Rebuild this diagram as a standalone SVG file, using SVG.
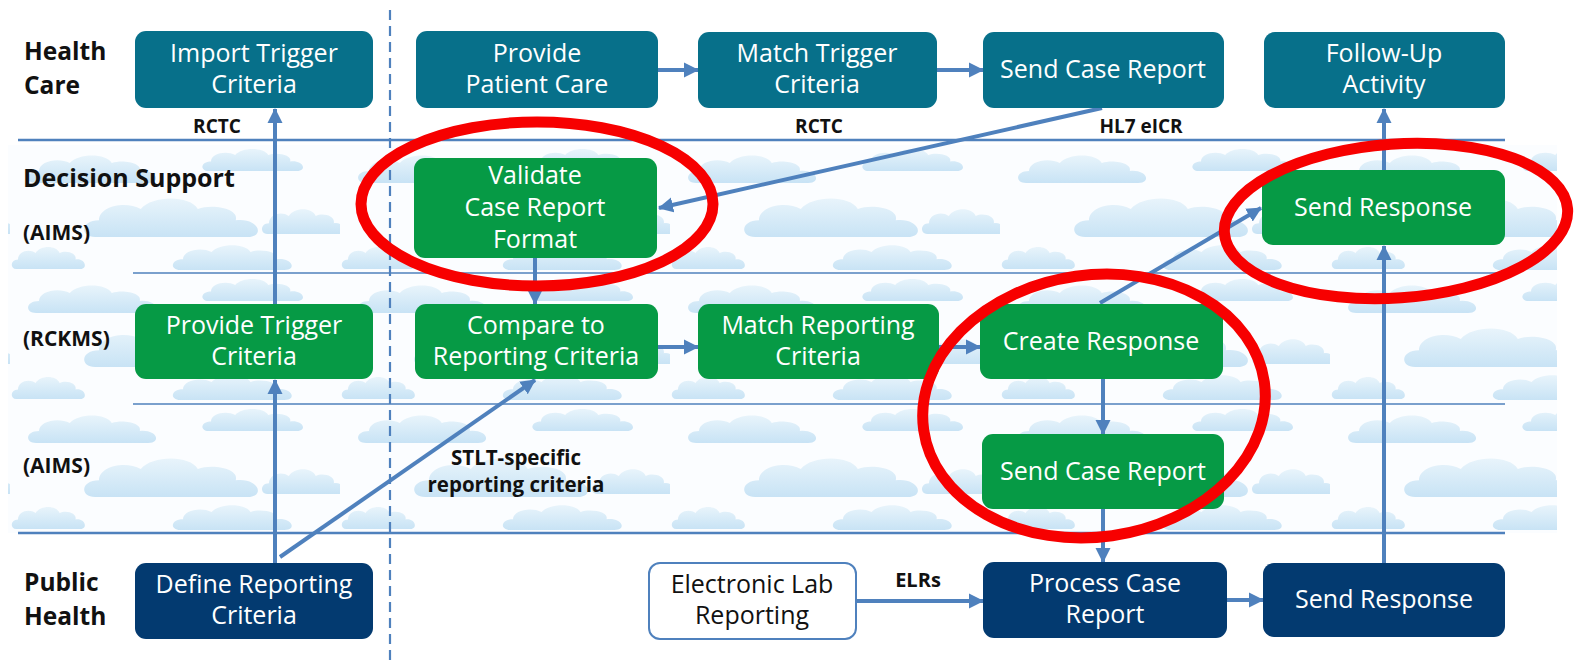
<svg xmlns="http://www.w3.org/2000/svg" width="1575" height="660" viewBox="0 0 1575 660">
<defs>
<style>
.bx{stroke:none}
.hc{fill:#07708a}
.gr{fill:#069a45}
.nv{fill:#033a70}
.bt{font-family:"Open Sans","Liberation Sans",sans-serif;font-size:25px;fill:#fff;text-anchor:middle}
.lb{font-family:"Open Sans","Liberation Sans",sans-serif;font-weight:700;fill:#111}
.ln{stroke:#4f81bd;fill:none}
.cn{stroke:#4f81bd;stroke-width:4;fill:none}
.ar{marker-end:url(#ah)}
.red{fill:none;stroke:#f70000;stroke-width:11}
</style>
<marker id="ah" markerUnits="userSpaceOnUse" markerWidth="17" markerHeight="17" refX="14" refY="8.5" orient="auto"><path d="M0,1 L15,8.5 L0,16 z" fill="#4f81bd"/></marker>
<linearGradient id="cg" x1="0" y1="0" x2="0" y2="1"><stop offset="0" stop-color="#e8f4fb"/><stop offset="1" stop-color="#c8e3f5"/></linearGradient>
<path id="cl" d="M8,30 C0,30 0,18 10,18 C10,8 24,4 32,10 C38,0 58,0 62,10 C70,6 84,10 82,18 C94,16 98,30 88,30 Z" fill="url(#cg)"/>
<pattern id="clouds" patternUnits="userSpaceOnUse" x="10" y="145" width="330" height="130">
<rect width="330" height="130" fill="#fbfdff"/>
<use href="#cl" transform="translate(15,8) scale(1.4,1)"/>
<use href="#cl" transform="translate(190,2) scale(1.1,0.8)"/>
<use href="#cl" transform="translate(70,50) scale(1.9,1.4)"/>
<use href="#cl" transform="translate(250,62) scale(0.9,0.9)"/>
<use href="#cl" transform="translate(0,100) scale(0.8,0.8)"/>
<use href="#cl" transform="translate(160,98) scale(1.3,0.9)"/>
</pattern>
</defs>
<rect width="1575" height="660" fill="#fff"/>
<rect x="8" y="145" width="1549" height="388" fill="url(#clouds)"/>

<g id="lanes">
<line class="ln" x1="18" y1="140" x2="1505" y2="140" stroke-width="2.5"/>
<line class="ln" x1="133" y1="273" x2="1505" y2="273" stroke-width="1.5"/>
<line class="ln" x1="133" y1="404" x2="1505" y2="404" stroke-width="1.5"/>
<line class="ln" x1="18" y1="533" x2="1505" y2="533" stroke-width="2.5"/>
<line class="ln" x1="390" y1="10" x2="390" y2="660" stroke-width="2.2" stroke-dasharray="10,6"/>
</g>

<g id="lane-labels">
<text class="lb" font-size="24.5"><tspan x="24" y="60">Health</tspan><tspan x="24" y="94">Care</tspan></text>
<text class="lb" font-size="25" x="23" y="187">Decision Support</text>
<text class="lb" font-size="21" x="23" y="240">(AIMS)</text>
<text class="lb" font-size="21" x="23" y="346">(RCKMS)</text>
<text class="lb" font-size="21" x="23" y="473">(AIMS)</text>
<text class="lb" font-size="24.5"><tspan x="24" y="591">Public</tspan><tspan x="24" y="625">Health</tspan></text>
</g>

<g id="connectors">
<line class="cn ar" x1="275" y1="563" x2="275" y2="380"/>
<line class="cn ar" x1="275" y1="304" x2="275" y2="109"/>
<line class="cn ar" x1="280" y1="557" x2="535" y2="380"/>
<line class="cn ar" x1="658" y1="70" x2="698" y2="70"/>
<line class="cn ar" x1="937" y1="70" x2="983" y2="70"/>
<line class="cn ar" x1="1102" y1="108" x2="659" y2="208"/>
<line class="cn ar" x1="535" y1="258" x2="535" y2="304"/>
<line class="cn ar" x1="658" y1="347" x2="698" y2="347"/>
<line class="cn ar" x1="939" y1="347" x2="980" y2="347"/>
<line class="cn ar" x1="1100" y1="303" x2="1261" y2="208"/>
<line class="cn ar" x1="1103" y1="379" x2="1103" y2="434"/>
<line class="cn ar" x1="1103" y1="509" x2="1103" y2="562"/>
<line class="cn ar" x1="856" y1="601" x2="983" y2="601"/>
<line class="cn ar" x1="1227" y1="600" x2="1263" y2="600"/>
<line class="cn ar" x1="1384" y1="563" x2="1384" y2="246"/>
<line class="cn ar" x1="1384" y1="170" x2="1384" y2="109"/>
<text class="lb" font-size="19" x="217" y="133" text-anchor="middle">RCTC</text>
<text class="lb" font-size="19" x="819" y="133" text-anchor="middle">RCTC</text>
<text class="lb" font-size="19" x="1141" y="133" text-anchor="middle">HL7 eICR</text>
<text class="lb" font-size="20.5" text-anchor="middle"><tspan x="516" y="465">STLT-specific</tspan><tspan x="516" y="492">reporting criteria</tspan></text>
<text class="lb" font-size="20" x="918" y="587" text-anchor="middle">ELRs</text>
</g>

<g id="n-import"><rect class="bx hc" x="135" y="31" width="238" height="77" rx="11"/><text class="bt" x="254" y="62">Import Trigger</text><text class="bt" x="254" y="93">Criteria</text></g>
<g id="n-patient"><rect class="bx hc" x="416" y="31" width="242" height="77" rx="11"/><text class="bt" x="537" y="62">Provide</text><text class="bt" x="537" y="93">Patient Care</text></g>
<g id="n-matchtrig"><rect class="bx hc" x="698" y="32" width="239" height="76" rx="11"/><text class="bt" x="817" y="62">Match Trigger</text><text class="bt" x="817" y="93">Criteria</text></g>
<g id="n-sendcase-hc"><rect class="bx hc" x="983" y="32" width="241" height="76" rx="11"/><text class="bt" x="1103" y="78">Send Case Report</text></g>
<g id="n-followup"><rect class="bx hc" x="1264" y="32" width="241" height="76" rx="11"/><text class="bt" x="1384" y="62">Follow-Up</text><text class="bt" x="1384" y="93">Activity</text></g>

<g id="n-validate"><rect class="bx gr" x="414" y="158" width="243" height="100" rx="11"/><text class="bt" x="535" y="184">Validate</text><text class="bt" x="535" y="216">Case Report</text><text class="bt" x="535" y="248">Format</text></g>
<g id="n-sendresp-ds"><rect class="bx gr" x="1262" y="170" width="243" height="75" rx="11"/><text class="bt" x="1383" y="216">Send Response</text></g>

<g id="n-providetrig"><rect class="bx gr" x="135" y="304" width="238" height="75" rx="11"/><text class="bt" x="254" y="334">Provide Trigger</text><text class="bt" x="254" y="365">Criteria</text></g>
<g id="n-compare"><rect class="bx gr" x="415" y="304" width="243" height="75" rx="11"/><text class="bt" x="536" y="334">Compare to</text><text class="bt" x="536" y="365">Reporting Criteria</text></g>
<g id="n-matchrep"><rect class="bx gr" x="698" y="304" width="241" height="75" rx="11"/><text class="bt" x="818" y="334">Match Reporting</text><text class="bt" x="818" y="365">Criteria</text></g>
<g id="n-create"><rect class="bx gr" x="980" y="304" width="243" height="75" rx="11"/><text class="bt" x="1101" y="350">Create Response</text></g>
<g id="n-sendcase-aims"><rect class="bx gr" x="982" y="434" width="242" height="75" rx="11"/><text class="bt" x="1103" y="480">Send Case Report</text></g>

<g id="n-define"><rect class="bx nv" x="135" y="563" width="238" height="76" rx="11"/><text class="bt" x="254" y="593">Define Reporting</text><text class="bt" x="254" y="624">Criteria</text></g>
<g id="n-elr"><rect x="649" y="563" width="207" height="76" rx="11" fill="#fff" stroke="#4f81bd" stroke-width="2"/><text class="bt" x="752" y="593" style="fill:#111">Electronic Lab</text><text class="bt" x="752" y="624" style="fill:#111">Reporting</text></g>
<g id="n-process"><rect class="bx nv" x="983" y="562" width="244" height="76" rx="11"/><text class="bt" x="1105" y="592">Process Case</text><text class="bt" x="1105" y="623">Report</text></g>
<g id="n-sendresp-ph"><rect class="bx nv" x="1263" y="563" width="242" height="74" rx="11"/><text class="bt" x="1384" y="608">Send Response</text></g>

<g id="highlights">
<ellipse class="red" cx="537" cy="204" rx="176" ry="82"/>
<ellipse class="red" cx="1094" cy="406" rx="172" ry="131" transform="rotate(-8 1094 406)"/>
<ellipse class="red" cx="1396" cy="221" rx="172" ry="77" transform="rotate(-4 1396 221)"/>
</g>
</svg>
